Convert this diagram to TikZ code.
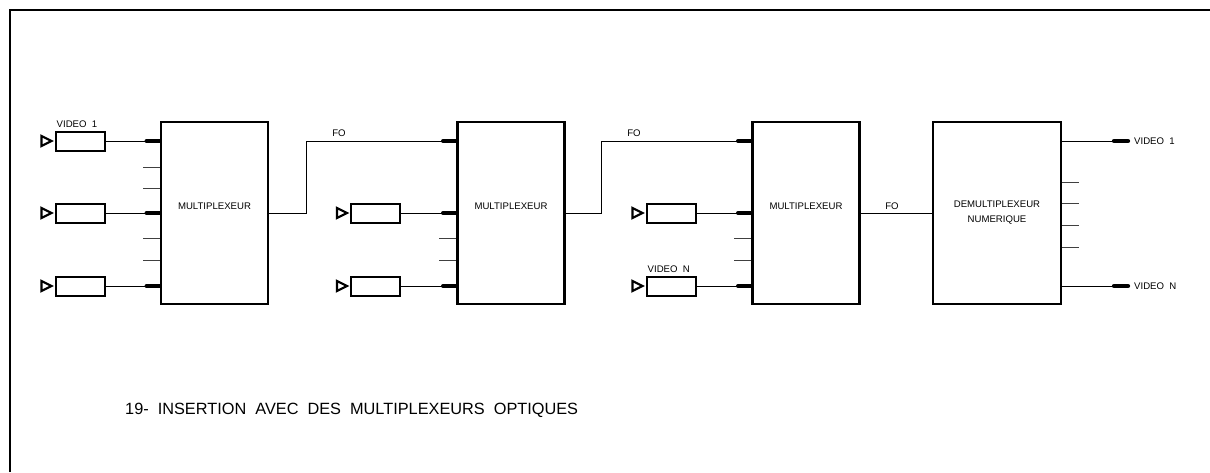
\documentclass[tikz,border=0pt]{standalone}
\usepackage{fontspec}
\setmainfont{Liberation Sans}
\usetikzlibrary{positioning}

\begin{document}
\begin{tikzpicture}[x=1pt,y=-1pt,
		bloc/.style={draw,line width=2.8pt,minimum width=107pt,minimum height=182pt,inner sep=0pt,align=center,font=\fontsize{9.6}{15}\selectfont},
		entree/.style={draw,line width=2pt,minimum width=49pt,minimum height=19pt,inner sep=0pt},
		fil/.style={line width=1pt},
		prise/.style={line width=4.2pt,line cap=round},
		etiq/.style={font=\fontsize{9.6}{10}\selectfont,inner sep=1pt}]
	\useasboundingbox (0,0) rectangle (1210,472);
	\draw[line width=1.6pt] (10,472) -- (10,10) -- (1210,10);
	% blocs
	\node[bloc] (b1) at (214.5,213) {};
	\node[bloc] (b2) at (511,213) {};
	\node[bloc] (b3) at (806,213) {};
	\node[bloc,minimum width=128pt] (b4) at (997,213) {DEMULTIPLEXEUR\\NUMERIQUE};
	\foreach \b in {b1,b2,b3}
		\node[etiq] (t\b) at ([yshift=7pt]\b.center) {MULTIPLEXEUR};
	% entrees video
	\foreach \x/\b/\y [count=\i] in {80/b1/141,80/b1/213,80/b1/286,375.5/b2/213,375.5/b2/286,671/b3/213,671/b3/286}
	{
		\node[entree] (e\i) at (\x,\y) {};
		\draw[line width=2.2pt] ([xshift=-3pt]e\i.west) -- ++(-10,-5) -- ++(0,10) -- cycle;
		\draw[fil] (e\i.east) -- (\b.west|-e\i);
		\draw[prise] ([xshift=-13pt]\b.west|-e\i) -- (\b.west|-e\i);
	}
	\node[etiq,anchor=south west] (v1) at ([shift={(1pt,1.5pt)}]e1.north west) {VIDEO\ \ 1};
	\node[etiq,anchor=south west] (vn) at ([shift={(1pt,1.5pt)}]e7.north west) {VIDEO\ \ N};
	% voies libres
	\foreach \y in {167,188,238,260}
		\draw[fil,black!75] (b1.west|-0,\y) -- ++(-17,0);
	\foreach \b in {b2,b3}
		\foreach \y in {238,260}
			\draw[fil,black!75] (\b.west|-0,\y) -- ++(-17,0);
	\foreach \y in {182,203,225,247}
		\draw[fil,black!75] (b4.east|-0,\y) -- ++(17,0);
	% fibres optiques
	\coordinate (c1) at (306,213);
	\coordinate (c2) at (601,213);
	\draw[fil] (b1.east|-c1) -- (c1) -- (c1|-0,141) -- (b2.west|-0,141);
	\draw[prise] (b2.west|-0,141) -- ++(-13,0);
	\draw[fil] (b2.east|-c2) -- (c2) -- (c2|-0,141) -- (b3.west|-0,141);
	\draw[prise] (b3.west|-0,141) -- ++(-13,0);
	\draw[fil] (b3.east|-0,213) -- (b4.west|-0,213);
	\node[etiq] (f1) at (339,133) {FO};
	\node[etiq] (f2) at (634,133) {FO};
	\node[etiq] (f3) at (892,206) {FO};
	% sorties
	\coordinate (s1) at (1128,141);
	\coordinate (sn) at (1128,286);
	\draw[fil] (b4.east|-s1) -- (s1);
	\draw[fil] (b4.east|-sn) -- (sn);
	\draw[prise] (s1) -- ++(-14,0);
	\draw[prise] (sn) -- ++(-14,0);
	\node[etiq,anchor=west] (o1) at ([xshift=5pt]s1) {VIDEO\ \ 1};
	\node[etiq,anchor=west] (on) at ([xshift=5pt]sn) {VIDEO\ \ N};
	% titre
	\node[anchor=west,inner sep=0pt,font=\fontsize{16.3}{17}\selectfont] (titre) at (125,410) {19-\ \ INSERTION\ \ AVEC\ \ DES\ \ MULTIPLEXEURS\ \ OPTIQUES};
\end{tikzpicture}
\end{document}
